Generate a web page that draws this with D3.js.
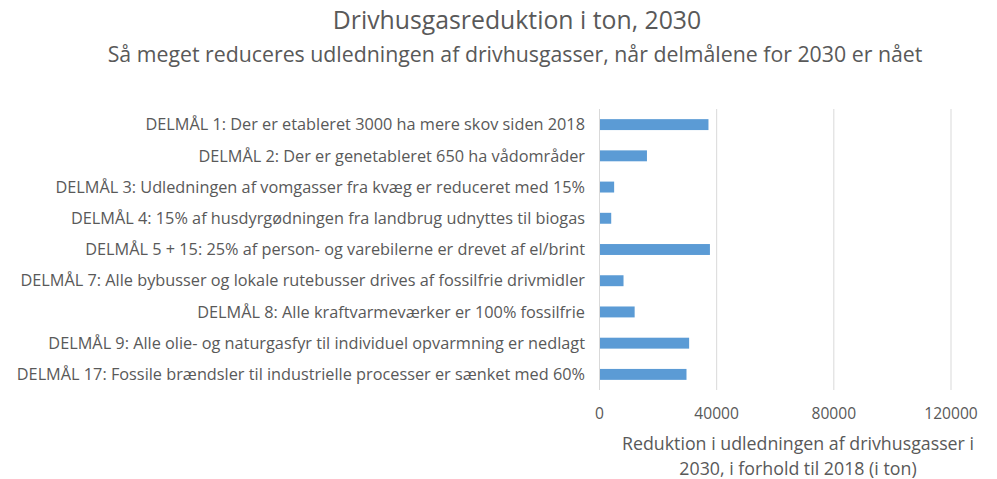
<!DOCTYPE html>
<html>
<head>
<meta charset="utf-8">
<script src="https://cdn.jsdelivr.net/npm/d3@7"></script>
<style>
  body { margin: 0; background: #fff; }
  svg text { font-family: "Open Sans", sans-serif; fill: #595959; }
</style>
</head>
<body>
<div id="chart"></div>
<script>
// data
const categories = [
    'DELMÅL 1: Der er etableret 3000 ha mere skov siden 2018',
    'DELMÅL 2: Der er genetableret 650 ha vådområder',
    'DELMÅL 3: Udledningen af vomgasser fra kvæg er reduceret med 15%',
    'DELMÅL 4: 15% af husdyrgødningen fra landbrug udnyttes til biogas',
    'DELMÅL 5 + 15: 25% af person- og varebilerne er drevet af el/brint',
    'DELMÅL 7: Alle bybusser og lokale rutebusser drives af fossilfrie drivmidler',
    'DELMÅL 8: Alle kraftvarmeværker er 100% fossilfrie',
    'DELMÅL 9: Alle olie- og naturgasfyr til individuel opvarmning er nedlagt',
    'DELMÅL 17: Fossile brændsler til industrielle processer er sænket med 60%'
];
const reductions = [37200, 16200, 5000, 4000, 37700, 8200, 12000, 30600, 29700];
const xTicks = [0, 40000, 80000, 120000];
const title = 'Drivhusgasreduktion i ton, 2030';
const subtitle = 'Så meget reduceres udledningen af drivhusgasser, når delmålene for 2030 er nået';
const axisTitle = ['Reduktion i udledningen af drivhusgasser i', '2030, i forhold til 2018 (i ton)'];

const width = 997, height = 479;
const margin = { top: 109, left: 599.5, bottom: 89 };
const plotRight = 951;

const svg = d3.select('#chart')
    .append('svg')
    .attr('width', width)
    .attr('height', height);

const x = d3.scaleLinear()
    .domain([0, 120000])
    .range([margin.left, plotRight]);

const y = d3.scaleBand()
    .domain(categories)
    .range([margin.top, height - margin.bottom])
    .paddingInner(0.65)
    .paddingOuter(0.325);

// gridlines
svg.append('g')
    .selectAll('line')
    .data(xTicks.slice(1))
    .enter()
    .append('line')
    .attr('x1', d => x(d))
    .attr('x2', d => x(d))
    .attr('y1', margin.top)
    .attr('y2', height - margin.bottom)
    .attr('stroke', '#d9d9d9')
    .attr('stroke-width', 1);

// bars
svg.append('g')
    .selectAll('rect')
    .data(reductions)
    .enter()
    .append('rect')
    .attr('x', x(0))
    .attr('y', (d, i) => y(categories[i]))
    .attr('width', d => x(d) - x(0))
    .attr('height', y.bandwidth())
    .attr('fill', '#5b9bd5');

// y axis line + labels
svg.append('line')
    .attr('x1', x(0)).attr('x2', x(0))
    .attr('y1', margin.top).attr('y2', height - margin.bottom)
    .attr('stroke', '#d9d9d9');

svg.append('g')
    .selectAll('text')
    .data(categories)
    .enter()
    .append('text')
    .attr('x', 585)
    .attr('y', d => y(d) + y.bandwidth() / 2)
    .attr('dy', '0.35em')
    .attr('text-anchor', 'end')
    .style('font-size', '16.3px')
    .text(d => d);

// x tick labels
svg.append('g')
    .selectAll('text')
    .data(xTicks)
    .enter()
    .append('text')
    .attr('x', d => x(d))
    .attr('y', 413.5)
    .attr('dy', '0.35em')
    .attr('text-anchor', 'middle')
    .style('font-size', '15.6px')
    .text(d => d);

// axis title
svg.append('g')
    .selectAll('text')
    .data(axisTitle)
    .enter()
    .append('text')
    .attr('x', 798)
    .attr('y', (d, i) => 444 + i * 25)
    .attr('dy', '0.35em')
    .attr('text-anchor', 'middle')
    .style('font-size', '17.8px')
    .text(d => d);

// titles
svg.append('text')
    .attr('x', 517)
    .attr('y', 20)
    .attr('dy', '0.35em')
    .attr('text-anchor', 'middle')
    .style('font-size', '24.8px')
    .text(title);

svg.append('text')
    .attr('x', 515)
    .attr('y', 55)
    .attr('dy', '0.35em')
    .attr('text-anchor', 'middle')
    .style('font-size', '21.3px')
    .text(subtitle);
</script>
</body>
</html>
